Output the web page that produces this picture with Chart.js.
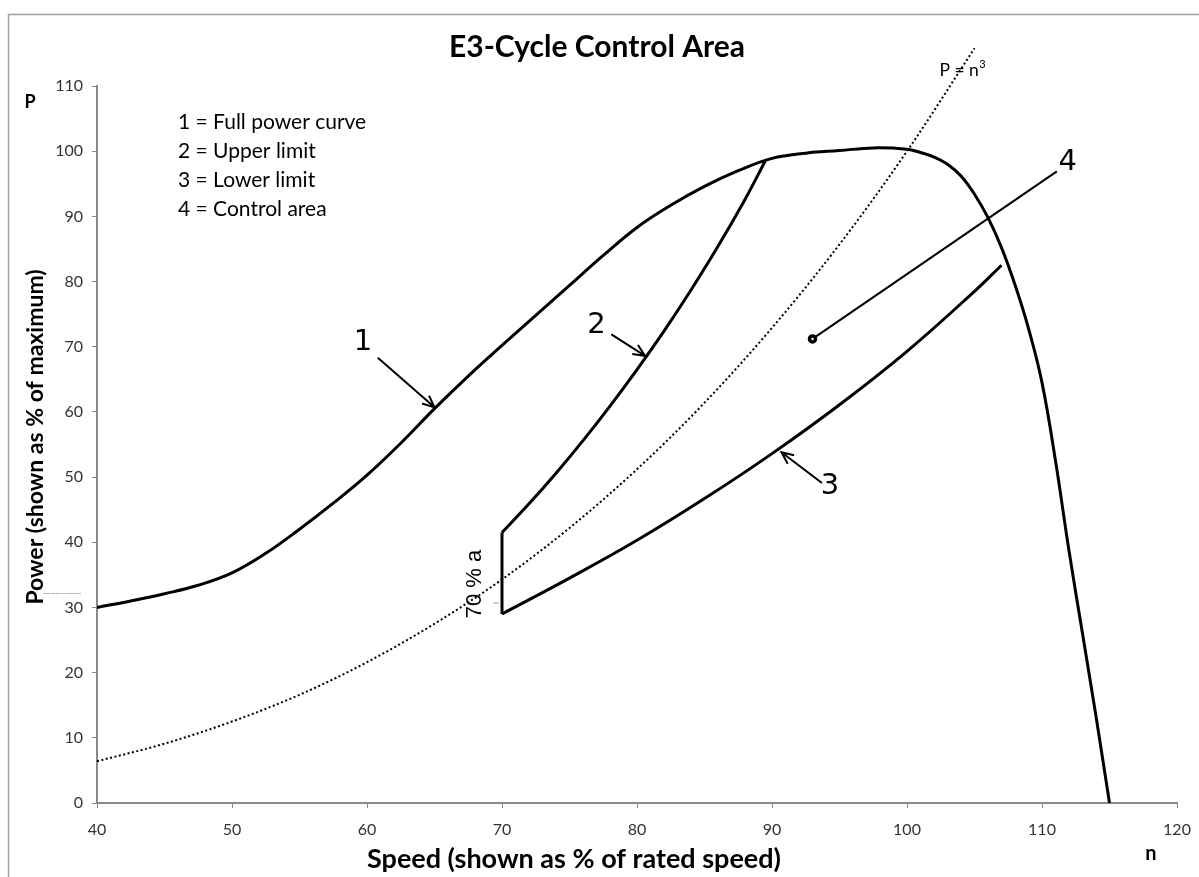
<!DOCTYPE html>
<html>
<head>
<meta charset="utf-8">
<script src="https://cdn.jsdelivr.net/npm/chart.js@4.4.0/dist/chart.umd.min.js"></script>
<style>
html,body{margin:0;padding:0;background:#fff;}
canvas{display:block;}
</style>
</head>
<body>
<canvas id="c" width="1199" height="877"></canvas>
<script>
// ---------- data ----------
const xTicks = [40, 50, 60, 70, 80, 90, 100, 110, 120];
const yTicks = [0, 10, 20, 30, 40, 50, 60, 70, 80, 90, 100, 110];

const fullPowerSpeed = [40, 42.5, 45, 47.5, 50, 52.5, 55, 57.5, 60, 62.5, 65, 67.5, 70, 72.5, 75, 77.5, 80, 82.5, 85, 87.5, 90, 92.5, 95, 97.5, 100, 101, 102, 103, 104, 105, 106, 107, 108, 109, 110, 111, 112, 113, 114, 115];
const fullPowerValue = [30, 31, 32.1, 33.4, 35.3, 38.3, 42, 46, 50.3, 55.2, 60.5, 65.5, 70.2, 74.8, 79.4, 84, 88.3, 91.7, 94.6, 97, 98.9, 99.7, 100.1, 100.5, 100.3, 99.8, 99.1, 98, 96.2, 93.4, 89.8, 85.2, 79.5, 72.8, 64.5, 52.5, 38.7, 26, 13.3, 0];

const upperSpeed = [70, 72, 74, 76, 78, 80, 82, 84, 86, 88, 89.5];
const upperValue = [41.5, 45.9, 50.6, 55.6, 60.9, 66.5, 72.4, 78.7, 85.4, 92.6, 98.5];

const stepSpeed = [70, 70];
const stepValue = [29, 41.5];

const lowerSpeed = [70, 75, 80, 85, 90, 95, 100, 105, 107];
const lowerValue = [29, 34.5, 40.3, 46.7, 53.6, 61.1, 69.3, 78.5, 82.5];

const cubeSpeed = [40, 45, 50, 55, 60, 65, 70, 75, 80, 85, 90, 95, 100, 105];
const cubeValue = [6.4, 9.1, 12.5, 16.6, 21.6, 27.5, 34.3, 42.2, 51.2, 61.4, 72.9, 85.7, 100, 115.8];

const pointerSpeed = [93, 111.1];
const pointerValue = [71.2, 96.9];

const arrowFromSpeed = [60.8, 78.1, 93.7];
const arrowFromValue = [68.3, 71.9, 49.1];
const arrowToSpeed = [65.0, 80.6, 90.7];
const arrowToValue = [60.7, 68.6, 53.8];

const numberText = ['1', '2', '3', '4'];
const numberSpeed = [59.7, 77.0, 94.3, 111.9];
const numberValue = [70.7, 73.2, 48.5, 98.2];

const legendLines = ['1 = Full power curve', '2 = Upper limit', '3 = Lower limit', '4 = Control area'];

const titleText = 'E3-Cycle Control Area';
const xTitle = 'Speed (shown as % of rated speed)';
const yTitle = 'Power (shown as % of maximum)';
const cubeLabel = ['P = n', '3'];
const cubeLabelSpeed = 104.1, cubeLabelValue = 112.4;
const seventyText = '70 % a';
const seventySpeed = 68.0, seventyValue = 33.6;

// ---------- helpers ----------
const pts = (xs, ys) => xs.map((x, i) => ({x, y: ys[i]}));
const FONT = 'Lato, "Open Sans", sans-serif';
const AXIS_GRAY = '#898989';

const overlay = {
  id: 'overlay',
  beforeDraw(chart) {
    const ctx = chart.ctx;
    ctx.save();
    ctx.fillStyle = '#fff';
    ctx.fillRect(0, 0, chart.width, chart.height);
    ctx.strokeStyle = '#a0a0a0';
    ctx.lineWidth = 1.5;
    ctx.beginPath();
    ctx.moveTo(8.5, chart.height + 2);
    ctx.lineTo(8.5, 14.5);
    ctx.lineTo(chart.width + 2, 14.5);
    ctx.stroke();
    ctx.restore();
  },
  afterDatasetsDraw(chart) {
    const ctx = chart.ctx;
    const xs = chart.scales.x, ys = chart.scales.y;
    const X = v => xs.getPixelForValue(v), Y = v => ys.getPixelForValue(v);
    ctx.save();
    // title
    ctx.fillStyle = '#000';
    ctx.textAlign = 'center';
    ctx.textBaseline = 'middle';
    ctx.font = 'bold 30px ' + FONT;
    ctx.fillText(titleText, 597, 47);
    // axis titles
    ctx.font = 'bold 27px ' + FONT;
    ctx.fillText(xTitle, 574, 859);
    ctx.save();
    ctx.translate(36, 437);
    ctx.rotate(-Math.PI / 2);
    ctx.font = 'bold 23px ' + FONT;
    ctx.fillText(yTitle, 0, 0);
    ctx.restore();
    ctx.font = 'bold 18px ' + FONT;
    ctx.fillText('P', 30, 102);
    ctx.font = 'bold 20px ' + FONT;
    ctx.fillText('n', 1151, 854);
    // tiny residual text near the y axis
    ctx.font = 'bold 2.6px ' + FONT;
    ctx.fillStyle = '#777';
    ctx.textAlign = 'left';
    ctx.fillText(yTitle, 43, 593);
    // legend block
    ctx.fillStyle = '#000';
    ctx.font = '21px ' + FONT;
    ctx.textAlign = 'left';
    legendLines.forEach((t, i) => ctx.fillText(t, 178, 122 + i * 29));
    // P = n^3 label
    ctx.font = '17.5px ' + FONT;
    const lx = X(cubeLabelSpeed), ly = Y(cubeLabelValue);
    const w1 = ctx.measureText(cubeLabel[0]).width;
    ctx.font = '11px ' + FONT;
    const w2 = ctx.measureText(cubeLabel[1]).width;
    const sx = lx - (w1 + w2) / 2;
    ctx.font = '17.5px ' + FONT;
    ctx.fillText(cubeLabel[0], sx, ly);
    ctx.font = '11px ' + FONT;
    ctx.fillText(cubeLabel[1], sx + w1 + 0.5, ly - 6);
    // 70 % a
    ctx.save();
    ctx.translate(X(seventySpeed), Y(seventyValue));
    ctx.rotate(-Math.PI / 2);
    ctx.textAlign = 'center';
    ctx.font = '22px "Liberation Sans", Arial, sans-serif';
    ctx.fillText(seventyText, 0, 0);
    ctx.restore();
    ctx.strokeStyle = '#999';
    ctx.lineWidth = 1;
    ctx.beginPath();
    ctx.moveTo(X(seventySpeed) + 18, Y(30.7));
    ctx.lineTo(X(seventySpeed) + 24, Y(30.7));
    ctx.stroke();
    // number labels
    ctx.fillStyle = '#000';
    ctx.textAlign = 'center';
    ctx.font = '29px "DejaVu Sans", sans-serif';
    numberText.forEach((t, i) => ctx.fillText(t, X(numberSpeed[i]), Y(numberValue[i])));
    // arrows
    ctx.strokeStyle = '#000';
    ctx.lineWidth = 2;
    ctx.lineCap = 'butt';
    arrowFromSpeed.forEach((_, i) => {
      const x0 = X(arrowFromSpeed[i]), y0 = Y(arrowFromValue[i]);
      const x1 = X(arrowToSpeed[i]), y1 = Y(arrowToValue[i]);
      const a = Math.atan2(y1 - y0, x1 - x0);
      const L = 13, h = 0.42;
      ctx.beginPath();
      ctx.moveTo(x0, y0);
      ctx.lineTo(x1, y1);
      ctx.moveTo(x1 - L * Math.cos(a - h), y1 - L * Math.sin(a - h));
      ctx.lineTo(x1, y1);
      ctx.lineTo(x1 - L * Math.cos(a + h), y1 - L * Math.sin(a + h));
      ctx.stroke();
    });
    ctx.restore();
  }
};

const curve = (data, extra) => Object.assign({
  data,
  showLine: true,
  borderColor: '#000',
  backgroundColor: '#000',
  borderWidth: 3,
  pointRadius: 0,
  tension: 0.4,
  fill: false
}, extra || {});

new Chart(document.getElementById('c'), {
  type: 'scatter',
  data: {
    datasets: [
      curve(pts(cubeSpeed, cubeValue), {borderWidth: 2, borderDash: [2, 2.5], clip: false, cubicInterpolationMode: 'monotone', capBezierPoints: false}),
      curve(pts(fullPowerSpeed, fullPowerValue)),
      curve(pts(upperSpeed, upperValue)),
      curve(pts(stepSpeed, stepValue), {tension: 0}),
      curve(pts(lowerSpeed, lowerValue)),
      curve(pts(pointerSpeed, pointerValue), {
        tension: 0, borderWidth: 2,
        pointRadius: [3, 0], pointBorderWidth: 3.5,
        pointBackgroundColor: '#fff', pointBorderColor: '#000'
      })
    ]
  },
  options: {
    responsive: false,
    animation: false,
    devicePixelRatio: 1,
    layout: {padding: {left: 0, right: 22, top: 86, bottom: 0}},
    plugins: {legend: {display: false}, tooltip: {enabled: false}, title: {display: false}},
    scales: {
      x: {
        type: 'linear', min: 40, max: 120,
        afterBuildTicks: s => { s.ticks = xTicks.map(v => ({value: v})); },
        afterFit: s => { s.height = 74; s.paddingLeft = 0; s.paddingRight = 0; },
        ticks: {color: '#333', font: {family: FONT, size: 16}, padding: 12, maxRotation: 0, autoSkip: false},
        grid: {display: true, drawOnChartArea: false, drawTicks: true, tickLength: 5, color: AXIS_GRAY, tickWidth: 1},
        border: {display: true, color: AXIS_GRAY, width: 2}
      },
      y: {
        type: 'linear', min: 0, max: 110,
        afterBuildTicks: s => { s.ticks = yTicks.map(v => ({value: v})); },
        afterFit: s => { s.width = 97; s.paddingTop = 0; s.paddingBottom = 0; },
        ticks: {color: '#333', font: {family: FONT, size: 16}, padding: 9, autoSkip: false},
        grid: {display: true, drawOnChartArea: false, drawTicks: true, tickLength: 5, color: AXIS_GRAY, tickWidth: 1},
        border: {display: true, color: AXIS_GRAY, width: 2}
      }
    }
  },
  plugins: [overlay]
});
</script>
</body>
</html>
